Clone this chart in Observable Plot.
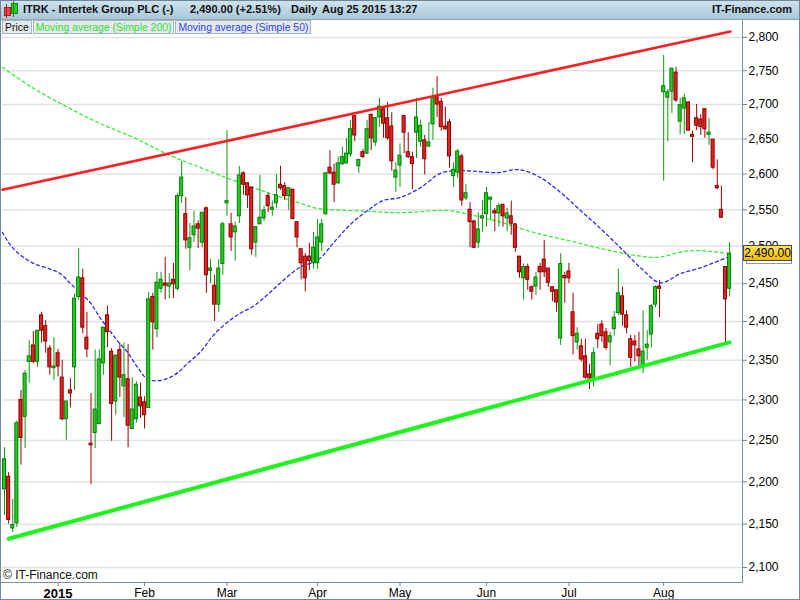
<!DOCTYPE html>
<html><head><meta charset="utf-8">
<script src="https://cdn.jsdelivr.net/npm/d3@7"></script>
<script src="https://cdn.jsdelivr.net/npm/@observablehq/plot@0.6"></script>
<style>
body{margin:0;background:#fff;font-family:"Liberation Sans",Arial,sans-serif;}
#wrap{position:relative;width:800px;height:600px;overflow:hidden;background:#fff;}
#hdr{position:absolute;left:0;top:0;width:800px;height:20px;background:linear-gradient(#d0e4ee,#a9c8d8);border-bottom:1px solid #8ea6b3;box-sizing:border-box;}
.ht{position:absolute;top:3px;font-size:11px;font-weight:bold;color:#111;white-space:nowrap;line-height:13px;}
#chart{position:absolute;left:0;top:20px;}
#legend{position:absolute;left:2px;top:20px;display:flex;}
.lg{height:14px;font-size:10.4px;line-height:13px;padding:0 2px;margin-right:1px;background:#e3eaee;border:1px solid #a6b6bf;box-sizing:border-box;white-space:nowrap}
#border{position:absolute;left:0;top:0;width:800px;height:600px;border:1px solid #6f8796;box-sizing:border-box;pointer-events:none}
.axl{position:absolute;background:#7a909d;}
#tag{position:absolute;left:743px;width:49px;height:16px;box-sizing:border-box;border:1px solid #4a4a4a;background:linear-gradient(#ffe45a,#f2bb00);font-size:12px;line-height:14px;text-align:center;color:#000;}
#tagsh{position:absolute;left:746px;width:46px;height:16px;box-sizing:border-box;border:1px solid #8d9aa2;background:#fff;}
#copy{position:absolute;left:3px;top:568px;font-size:12px;color:#111;}
</style></head>
<body>
<div id="wrap">
  <div id="chart"></div>
  <div id="hdr">
    <div style="position:absolute;left:4px;top:7px;width:5px;height:7px;background:#e44;border:1px solid #a22;"></div>
    <div style="position:absolute;left:6px;top:4px;width:1px;height:14px;background:#a22;"></div>
    <div style="position:absolute;left:11px;top:3px;width:5px;height:9px;background:#2c2;border:1px solid #181;"></div>
    <div style="position:absolute;left:13px;top:1px;width:1px;height:16px;background:#181;"></div>
    <span class="ht" style="left:23px">ITRK - Intertek Group PLC (-)</span>
    <span class="ht" style="left:190px">2,490.00 (+2.51%)</span>
    <span class="ht" style="left:291px">Daily</span>
    <span class="ht" style="left:322px">Aug 25 2015 13:27</span>
    <span class="ht" style="right:8px">IT-Finance.com</span>
  </div>
  <div id="legend">
    <div class="lg" style="color:#111">Price</div>
    <div class="lg" style="color:#2ee02e">Moving average (Simple 200)</div>
    <div class="lg" style="color:#2f3ff0">Moving average (Simple 50)</div>
  </div>
  <div class="axl" style="left:742px;top:20px;width:1px;height:563px"></div>
  <div class="axl" style="left:0px;top:582px;width:743px;height:1px"></div>
  <div id="copy">© IT-Finance.com</div>
  <div id="tagsh"></div>
  <div id="tag">2,490.00</div>
  <div id="border"></div>
</div>
<script>
// OHLC by trading-day index (mid Dec 2014 .. 25 Aug 2015)
const open = [2191,2206,2145,2151,2300,2279,2348,2369,2348,2408,2394,2365,2340,2359,2328,2276,2312,2341,2432,2457,
2379,2246,2259,2270,2346,2408,2361,2298,2363,2317,2326,2264,2276,2303,2297,2290,2432,2390,2443,2450,
2446,2455,2443,2569,2544,2498,2515,2530,2505,2552,2467,2447,2422,2476,2559,2530,2519,2541,2601,2587,
2581,2505,2530,2538,2569,2550,2559,2585,2583,2569,2578,2533,2496,2486,2486,2477,2477,2505,2544,2609,
2602,2587,2614,2615,2628,2683,2611,2631,2629,2685,2645,2681,2693,2680,2668,2595,2612,2683,2631,2624,
2659,2646,2648,2639,2671,2712,2704,2668,2674,2597,2602,2625,2566,2550,2534,2505,2538,2544,2564,2548,
2545,2557,2538,2541,2530,2486,2457,2472,2445,2446,2472,2482,2470,2445,2441,2378,2460,2466,2412,2373,
2368,2355,2332,2327,2384,2396,2386,2373,2390,2411,2433,2408,2377,2374,2364,2341,2366,2383,2422,2446,
2718,2710,2719,2747,2675,2694,2703,2656,2680,2678,2693,2656,2649,2583,2550,2472,2443];
const high = [2241,2211,2179,2274,2312,2337,2375,2387,2388,2412,2401,2369,2379,2364,2350,2298,2327,2436,2497,2469,
2412,2308,2363,2363,2392,2420,2365,2356,2372,2372,2370,2328,2323,2321,2304,2438,2437,2465,2465,2485,
2463,2477,2573,2618,2567,2531,2548,2535,2546,2554,2482,2461,2482,2533,2662,2545,2533,2611,2603,2587,
2581,2526,2598,2555,2573,2562,2599,2611,2588,2580,2578,2533,2496,2490,2504,2519,2537,2537,2602,2633,
2614,2624,2638,2651,2677,2683,2620,2635,2677,2685,2681,2709,2694,2703,2688,2616,2643,2684,2659,2631,
2709,2677,2655,2674,2724,2741,2709,2696,2678,2616,2635,2628,2585,2560,2535,2546,2563,2581,2567,2552,
2559,2557,2552,2562,2530,2486,2476,2476,2447,2465,2477,2508,2470,2445,2441,2490,2465,2477,2437,2392,
2377,2377,2345,2366,2396,2401,2391,2386,2413,2469,2445,2414,2382,2382,2386,2414,2388,2422,2447,2454,
2773,2722,2753,2755,2709,2715,2704,2661,2700,2685,2694,2680,2649,2620,2583,2472,2505];
const low = [2160,2150,2140,2146,2220,2240,2321,2346,2341,2372,2359,2331,2324,2329,2274,2250,2290,2312,2428,2384,
2353,2197,2240,2269,2331,2366,2249,2281,2303,2278,2241,2264,2271,2277,2264,2290,2363,2379,2437,2428,
2430,2430,2440,2559,2496,2467,2505,2497,2498,2437,2450,2400,2412,2461,2541,2493,2480,2531,2570,2552,
2488,2485,2530,2534,2546,2541,2552,2577,2563,2549,2537,2498,2455,2439,2467,2469,2469,2493,2542,2599,
2560,2585,2612,2614,2624,2646,2601,2622,2628,2633,2639,2667,2651,2648,2604,2574,2581,2629,2622,2578,
2622,2638,2599,2638,2648,2681,2661,2662,2608,2581,2594,2555,2563,2498,2497,2497,2519,2526,2535,2520,
2526,2526,2520,2515,2492,2457,2428,2441,2428,2434,2441,2458,2445,2426,2412,2369,2424,2450,2357,2363,
2348,2326,2313,2316,2365,2373,2363,2343,2381,2408,2394,2384,2341,2348,2343,2333,2350,2366,2418,2405,
2590,2646,2687,2703,2656,2656,2661,2616,2662,2655,2651,2641,2606,2578,2539,2373,2432];
const close = [2227,2155,2149,2271,2253,2333,2355,2348,2388,2388,2374,2341,2342,2342,2276,2298,2308,2430,2458,2392,
2364,2244,2288,2351,2392,2386,2295,2356,2328,2331,2268,2288,2319,2292,2281,2429,2399,2451,2455,2447,
2450,2449,2569,2595,2508,2511,2527,2524,2546,2461,2470,2422,2470,2530,2562,2512,2527,2598,2585,2570,
2496,2526,2539,2549,2555,2553,2570,2580,2569,2580,2537,2512,2477,2457,2480,2498,2512,2530,2601,2601,
2585,2615,2624,2629,2664,2655,2620,2624,2664,2651,2680,2697,2672,2651,2618,2605,2626,2659,2624,2614,
2681,2669,2621,2645,2710,2700,2667,2664,2625,2606,2632,2563,2573,2533,2498,2523,2541,2573,2567,2545,
2555,2541,2545,2531,2498,2465,2472,2455,2439,2458,2465,2465,2451,2439,2425,2476,2457,2457,2381,2384,
2351,2328,2327,2359,2377,2381,2366,2381,2405,2437,2409,2392,2353,2369,2355,2361,2370,2420,2445,2443,
2727,2718,2753,2706,2699,2709,2662,2653,2669,2667,2664,2659,2609,2580,2539,2429,2490];

const monthTicks = [13, 34, 54, 76, 96, 117, 137, 160];
const monthLabels = ["2015", "Feb", "Mar", "Apr", "May", "Jun", "Jul", "Aug"];
const priceTicks = [2100,2150,2200,2250,2300,2350,2400,2450,2500,2550,2600,2650,2700,2750,2800];

const ma200Idx = [-0.5,7,15.3,23.3,31.3,39.6,47.6,55.6,63.8,71.8,76,79.9,88.1,96.1,107.5,112.4,120.4,128.4,136.7,144.7,152.7,158.5,164.8,168.9,176.2];
const ma200Val = [2755,2724,2696,2672,2652,2628,2609,2591,2574,2559,2552,2550,2548,2546,2549,2544,2533,2519,2508,2497,2488,2485,2493,2494,2490];
const ma50Idx = [-0.5,1.5,3.9,7,11.2,13.6,16,18.4,20.9,23.3,25,27.4,29.9,32.3,34.7,37.1,39.6,42,44.4,47.6,50.7,54.1,57.3,60.4,63.8,67,71.8,76,79.9,84,88.1,92,96.1,101,105.8,110,113.8,119.7,123.5,126,130.1,135,139.8,144.7,149.5,154.4,159.2,164,168.9,175.5];
const ma50Val = [2519,2501,2488,2477,2469,2463,2450,2438,2424,2404,2392,2375,2360,2341,2326,2324,2327,2334,2346,2361,2382,2399,2411,2420,2435,2451,2472,2481,2505,2530,2549,2563,2567,2581,2601,2605,2604,2602,2606,2605,2595,2574,2549,2524,2498,2471,2451,2463,2471,2485];

const resistIdx = [-0.5, 176.2], resistVal = [2578, 2809];
const supportIdx = [1, 176], supportVal = [2133, 2373];
const lastPrice = close[close.length - 1];

const candles = open.map((o, i) => ({i, o, h: high[i], l: low[i], c: close[i]}));
const ups = candles.filter(d => d.c >= d.o);
const downs = candles.filter(d => d.c < d.o);
const ma200 = ma200Idx.map((x, k) => ({x, y: ma200Val[k]}));
const ma50 = ma50Idx.map((x, k) => ({x, y: ma50Val[k]}));
const resist = resistIdx.map((x, k) => ({x, y: resistVal[k]}));
const support = supportIdx.map((x, k) => ({x, y: supportVal[k]}));
const hw = 0.37;

const chart = Plot.plot({
  width: 800, height: 580,
  marginTop: 1, marginBottom: 18, marginLeft: 2, marginRight: 58,
  style: {fontFamily: "'Liberation Sans', Arial, sans-serif", fontSize: "12px", background: "transparent", color: "#000"},
  x: {type: "linear", domain: [0, 176], range: [4, 729.1]},
  y: {type: "log", domain: [2100, 2800], range: [547, 17]},
  marks: [
    Plot.ruleY(priceTicks, {stroke: "#e2e2e2", strokeWidth: 1.5}),
    Plot.line(ma200, {x: "x", y: "y", stroke: "#3bea3b", strokeWidth: 1.3, strokeDasharray: "3,3", curve: "catmull-rom"}),
    Plot.line(ma50, {x: "x", y: "y", stroke: "#2a2af5", strokeWidth: 1.3, strokeDasharray: "3,3", curve: "catmull-rom"}),
    Plot.ruleX(ups, {x: "i", y1: "l", y2: "h", stroke: "#0c9a0c", strokeWidth: 1}),
    Plot.ruleX(downs, {x: "i", y1: "l", y2: "h", stroke: "#9a0000", strokeWidth: 1}),
    Plot.rect(ups, {x1: d => d.i - hw, x2: d => d.i + hw, y1: "o", y2: "c", fill: "#1fd01f", stroke: "#0b7a0b", strokeWidth: 1}),
    Plot.rect(downs, {x1: d => d.i - hw, x2: d => d.i + hw, y1: "o", y2: "c", fill: "#e6221f", stroke: "#8a0000", strokeWidth: 1}),
    Plot.line(resist, {x: "x", y: "y", stroke: "#ff1f1f", strokeWidth: 2.6}),
    Plot.line(support, {x: "x", y: "y", stroke: "#1cf51c", strokeWidth: 4}),
    Plot.axisY(priceTicks, {anchor: "right", tickFormat: d3.format(","), tickSize: 4, tickPadding: 2, stroke: "#6f8796", fill: "#000", fontSize: 12}),
    Plot.axisX(monthTicks.slice(1), {anchor: "bottom", tickFormat: d => monthLabels[monthTicks.indexOf(d)], tickSize: 4, tickPadding: 2, stroke: "#6f8796", fill: "#000", fontSize: 12}),
    Plot.axisX(monthTicks.slice(0, 1), {anchor: "bottom", tickFormat: d => monthLabels[monthTicks.indexOf(d)], tickSize: 4, tickPadding: 2, stroke: "#6f8796", fill: "#000", fontSize: 13, fontWeight: "bold"})
  ]
});
document.getElementById("chart").appendChild(chart);
const yPix = 20 + chart.scale("y").apply(lastPrice);
document.getElementById("tag").style.top = (yPix - 8) + "px";
document.getElementById("tagsh").style.top = (yPix - 5) + "px";
document.getElementById("tag").textContent = d3.format(",.2f")(lastPrice);
</script>
</body></html>
